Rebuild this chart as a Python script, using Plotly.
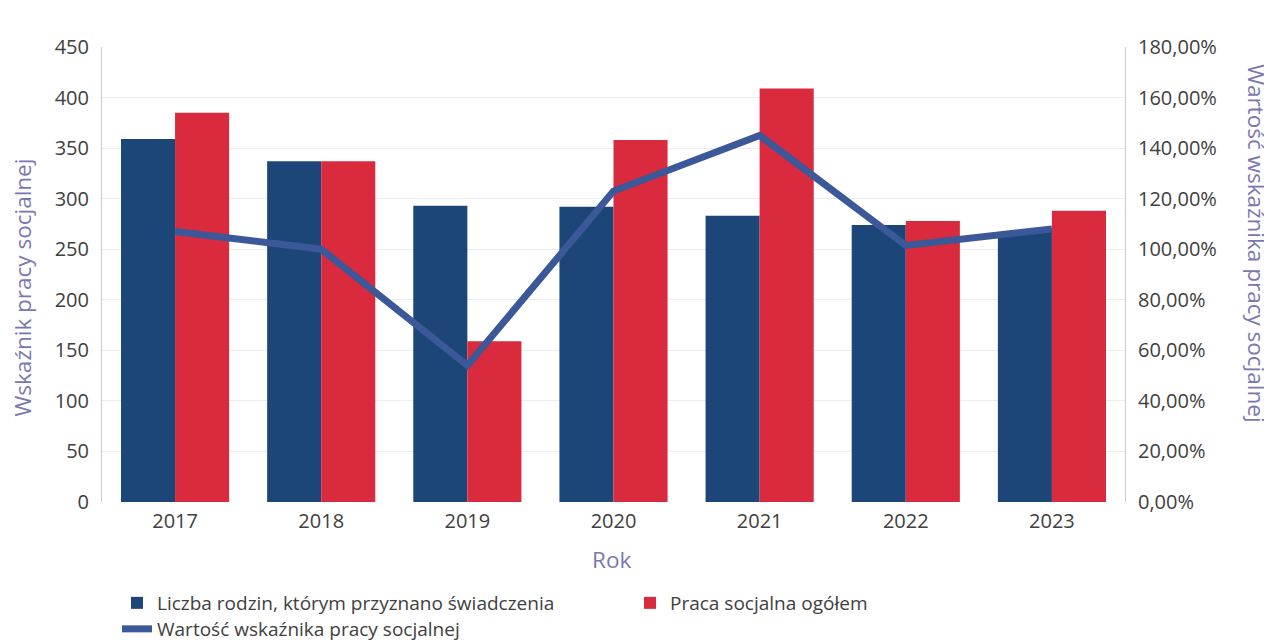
import plotly.graph_objects as go

# - - - - - - - - data - - - - - - - -
lata = ["2017", "2018", "2019", "2020", "2021", "2022", "2023"]
liczba_rodzin = [359, 337, 293, 292, 283, 274, 267]
praca_socjalna = [385, 337, 159, 358, 409, 278, 288]
wskaznik_proc = [107, 100, 54, 123, 145, 101.5, 108]

lewy_ticki = [0, 50, 100, 150, 200, 250, 300, 350, 400, 450]
prawy_ticki = [0, 20, 40, 60, 80, 100, 120, 140, 160, 180]
prawy_opisy = [f"{v:.2f}".replace(".", ",") + "%" for v in prawy_ticki]

granat = "#1b4677"
czerwony = "#d92a3e"
linia = "#3b5898"
fiolet = "#7a78b0"
szary = "#404040"

fig = go.Figure()

fig.add_trace(go.Bar(x=lata, y=liczba_rodzin, name="Liczba rodzin, którym przyznano świadczenia",
                     marker=dict(color=granat, line=dict(width=0)), legend="legend"))
fig.add_trace(go.Bar(x=lata, y=praca_socjalna, name="Praca socjalna ogółem",
                     marker=dict(color=czerwony, line=dict(width=0)), legend="legend3"))
fig.add_trace(go.Scatter(x=lata, y=wskaznik_proc, name="Wartość wskaźnika pracy socjalnej",
                         yaxis="y2", mode="lines", line=dict(color=linia, width=7),
                         legend="legend2"))

# - - - legend: each entry placed on its own (2 columns, line in row 2) - - -
leg_common = dict(orientation="h", xref="container", yref="container", yanchor="middle",
                  font=dict(size=19, color=szary), itemwidth=30, tracegroupgap=0,
                  bgcolor="rgba(0,0,0,0)")

fig.update_layout(
    width=1272, height=643,
    margin=dict(l=94, r=155, t=39, b=149, autoexpand=False),
    paper_bgcolor="white", plot_bgcolor="white",
    font=dict(family="Open Sans, Noto Sans, sans-serif", size=20, color=szary),
    barmode="group", bargap=0.26, bargroupgap=0,
    showlegend=True,
    legend=dict(x=0.0857, y=1 - 595 / 643, **leg_common),
    legend3=dict(x=0.489, y=1 - 595 / 643, **leg_common),
    legend2=dict(x=0.0857, y=1 - 621 / 643, **leg_common),
    xaxis=dict(showgrid=False, showline=False, ticks="", tickfont=dict(size=20),
               ticklabelstandoff=5, automargin=False),
    yaxis=dict(range=[0, 450], tickvals=lewy_ticki, showgrid=True, gridcolor="#ececec",
               showline=True, linecolor="#c8c8d8", linewidth=1, zeroline=False,
               tickfont=dict(size=20), ticks="", ticklabelstandoff=8, automargin=False),
    yaxis2=dict(range=[0, 180], tickvals=prawy_ticki, ticktext=prawy_opisy,
                overlaying="y", side="right", showgrid=False, zeroline=False,
                showline=True, linecolor="#c8c8d8", linewidth=1,
                tickfont=dict(size=20), ticks="", ticklabelstandoff=8, automargin=False),
)

# tytuly osi jako adnotacje (prawy czytany z gory na dol)
fig.add_annotation(text="Wskaźnik pracy socjalnej", xref="paper", yref="paper",
                   x=-0.078, y=0.472, xanchor="center", yanchor="middle", textangle=-90,
                   showarrow=False, font=dict(size=22.5, color=fiolet))
fig.add_annotation(text="Wartość wskaźnika pracy socjalnej", xref="paper", yref="paper",
                   x=1.129, y=0.569, xanchor="center", yanchor="middle", textangle=90,
                   showarrow=False, font=dict(size=22.5, color=fiolet))
fig.add_annotation(text="Rok", xref="paper", yref="paper", x=0.4985, y=-0.127,
                   xanchor="center", yanchor="middle", showarrow=False,
                   font=dict(size=22.5, color=fiolet))

fig.write_html("out.html")
